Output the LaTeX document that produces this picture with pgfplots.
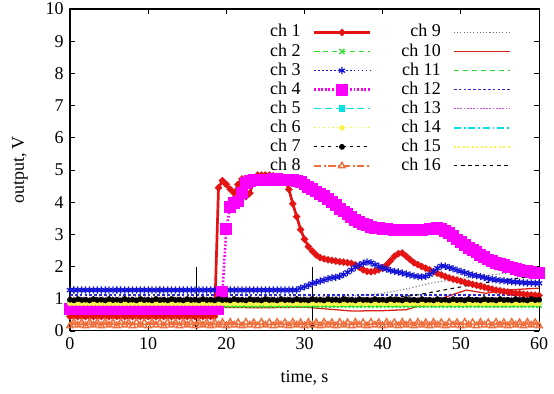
\documentclass[border=0pt]{standalone}
\usepackage{fontspec}
\setmainfont{Liberation Serif}
\usepackage{pgfplots}
\pgfplotsset{compat=1.18}
\usepackage{pgfplotstable}
\usetikzlibrary{arrows.meta}
\definecolor{c1}{RGB}{228,20,20}
\definecolor{c2}{RGB}{40,225,40}
\definecolor{c3}{RGB}{20,20,215}
\definecolor{c4}{RGB}{250,0,250}
\definecolor{c5}{RGB}{0,225,225}
\definecolor{c6}{RGB}{250,245,70}
\definecolor{c8}{RGB}{240,110,60}
\definecolor{c9}{RGB}{110,110,130}
\definecolor{c10}{RGB}{215,30,20}
\definecolor{c12}{RGB}{40,40,220}
\definecolor{c13}{RGB}{210,70,230}

\pgfplotstableread{
t a b c d e f g h
0.0 0.45 0.80 1.27 0.67 0.90 0.86 0.97 0.16
0.5 0.45 0.80 1.27 0.67 0.90 0.86 0.95 0.27
1.0 0.45 0.80 1.27 0.67 0.90 0.86 0.99 0.18
1.5 0.45 0.80 1.27 0.67 0.90 0.86 0.96 0.26
2.0 0.45 0.80 1.27 0.67 0.90 0.86 0.97 0.16
2.5 0.45 0.80 1.27 0.67 0.90 0.86 0.95 0.27
3.0 0.45 0.80 1.27 0.67 0.90 0.86 0.99 0.18
3.5 0.45 0.80 1.27 0.67 0.90 0.86 0.96 0.26
4.0 0.45 0.80 1.27 0.67 0.90 0.86 0.97 0.16
4.5 0.45 0.80 1.27 0.67 0.90 0.86 0.95 0.27
5.0 0.45 0.80 1.27 0.67 0.90 0.86 0.99 0.18
5.5 0.45 0.80 1.27 0.67 0.90 0.86 0.96 0.26
6.0 0.45 0.80 1.27 0.67 0.90 0.86 0.97 0.16
6.5 0.45 0.80 1.27 0.67 0.90 0.86 0.95 0.27
7.0 0.45 0.80 1.27 0.67 0.90 0.86 0.99 0.18
7.5 0.45 0.80 1.27 0.67 0.90 0.86 0.96 0.26
8.0 0.45 0.80 1.27 0.67 0.90 0.86 0.97 0.16
8.5 0.45 0.80 1.27 0.67 0.90 0.86 0.95 0.27
9.0 0.45 0.80 1.27 0.67 0.90 0.86 0.99 0.18
9.5 0.45 0.80 1.27 0.67 0.90 0.86 0.96 0.26
10.0 0.45 0.80 1.27 0.67 0.90 0.86 0.97 0.16
10.5 0.45 0.80 1.27 0.67 0.90 0.86 0.95 0.27
11.0 0.45 0.80 1.27 0.67 0.90 0.86 0.99 0.18
11.5 0.45 0.80 1.27 0.67 0.90 0.86 0.96 0.26
12.0 0.45 0.80 1.27 0.67 0.90 0.86 0.97 0.16
12.5 0.45 0.80 1.27 0.67 0.90 0.86 0.95 0.27
13.0 0.45 0.80 1.27 0.67 0.90 0.86 0.99 0.18
13.5 0.45 0.80 1.27 0.67 0.90 0.86 0.96 0.26
14.0 0.45 0.80 1.27 0.67 0.90 0.86 0.97 0.16
14.5 0.45 0.80 1.27 0.67 0.90 0.86 0.95 0.27
15.0 0.45 0.80 1.27 0.67 0.90 0.86 0.99 0.18
15.5 0.45 0.80 1.27 0.67 0.90 0.86 0.96 0.26
16.0 0.45 0.80 1.27 0.67 0.90 0.86 0.97 0.16
16.5 0.45 0.80 1.27 0.67 0.90 0.86 0.95 0.27
17.0 0.45 0.80 1.27 0.67 0.90 0.86 0.99 0.18
17.5 0.45 0.80 1.27 0.67 0.90 0.86 0.96 0.26
18.0 0.45 0.80 1.27 0.67 0.90 0.86 0.97 0.16
18.5 0.45 0.80 1.27 0.67 0.90 0.86 0.95 0.27
19.0 4.45 0.80 1.27 0.67 0.90 0.86 0.99 0.18
19.5 4.67 0.80 1.27 1.22 0.90 0.86 0.96 0.26
20.0 4.55 0.80 1.27 3.17 0.90 0.86 0.97 0.16
20.5 4.40 0.80 1.27 3.86 0.90 0.86 0.95 0.27
21.0 4.28 0.80 1.27 3.98 0.90 0.86 0.99 0.18
21.5 4.55 0.80 1.27 4.02 0.90 0.86 0.96 0.26
22.0 4.72 0.80 1.27 4.28 0.90 0.86 0.97 0.16
22.5 4.17 0.80 1.27 4.60 0.90 0.86 0.95 0.27
23.0 4.28 0.80 1.27 4.67 0.90 0.86 0.99 0.18
23.5 4.65 0.80 1.27 4.68 0.90 0.86 0.96 0.26
24.0 4.84 0.80 1.27 4.69 0.90 0.86 0.97 0.16
24.5 4.84 0.80 1.27 4.70 0.90 0.86 0.95 0.27
25.0 4.84 0.80 1.27 4.70 0.90 0.86 0.99 0.18
25.5 4.84 0.80 1.27 4.70 0.90 0.86 0.96 0.26
26.0 4.82 0.80 1.27 4.71 0.90 0.86 0.97 0.16
26.5 4.80 0.80 1.27 4.71 0.90 0.86 0.95 0.27
27.0 4.75 0.80 1.27 4.70 0.90 0.86 0.99 0.18
27.5 4.70 0.80 1.27 4.70 0.90 0.86 0.96 0.26
28.0 4.40 0.80 1.27 4.70 0.90 0.86 0.97 0.16
28.5 3.95 0.80 1.27 4.68 0.90 0.86 0.95 0.27
29.0 3.55 0.80 1.27 4.65 0.90 0.86 0.99 0.18
29.5 3.15 0.80 1.33 4.62 0.90 0.86 0.96 0.26
30.0 2.85 0.80 1.37 4.55 0.90 0.86 0.97 0.16
30.5 2.62 0.80 1.42 4.48 0.90 0.86 0.95 0.27
31.0 2.48 0.80 1.47 4.40 0.90 0.86 0.99 0.18
31.5 2.36 0.80 1.51 4.33 0.90 0.86 0.96 0.26
32.0 2.28 0.80 1.55 4.26 0.90 0.86 0.97 0.16
32.5 2.24 0.80 1.58 4.18 0.90 0.86 0.95 0.27
33.0 2.21 0.80 1.62 4.10 0.90 0.86 0.99 0.18
33.5 2.19 0.80 1.65 4.00 0.90 0.86 0.96 0.26
34.0 2.17 0.80 1.67 3.90 0.90 0.86 0.97 0.16
34.5 2.15 0.80 1.70 3.80 0.90 0.86 0.95 0.27
35.0 2.14 0.80 1.75 3.71 0.90 0.86 0.99 0.18
35.5 2.12 0.80 1.82 3.62 0.90 0.86 0.96 0.26
36.0 2.10 0.80 1.90 3.53 0.90 0.86 0.97 0.16
36.5 2.05 0.80 1.98 3.45 0.90 0.86 0.95 0.27
37.0 1.98 0.80 2.05 3.39 0.90 0.86 0.99 0.18
37.5 1.90 0.80 2.10 3.33 0.90 0.86 0.96 0.26
38.0 1.85 0.80 2.14 3.28 0.90 0.86 0.97 0.16
38.5 1.84 0.80 2.12 3.24 0.90 0.86 0.95 0.27
39.0 1.86 0.80 2.06 3.21 0.90 0.86 0.99 0.18
39.5 1.90 0.80 2.01 3.19 0.90 0.86 0.96 0.26
40.0 1.95 0.80 1.96 3.17 0.90 0.86 0.97 0.16
40.5 2.05 0.80 1.92 3.16 0.90 0.86 0.95 0.27
41.0 2.18 0.80 1.88 3.15 0.90 0.86 0.99 0.18
41.5 2.32 0.80 1.85 3.14 0.90 0.86 0.96 0.26
42.0 2.40 0.80 1.83 3.14 0.90 0.86 0.97 0.16
42.5 2.42 0.80 1.80 3.14 0.90 0.86 0.95 0.27
43.0 2.32 0.80 1.77 3.14 0.90 0.86 0.99 0.18
43.5 2.22 0.80 1.74 3.14 0.90 0.86 0.96 0.26
44.0 2.12 0.80 1.71 3.14 0.90 0.86 0.97 0.16
44.5 2.06 0.80 1.69 3.14 0.90 0.86 0.95 0.27
45.0 2.00 0.80 1.68 3.14 0.90 0.86 0.99 0.18
45.5 1.95 0.80 1.70 3.15 0.90 0.86 0.96 0.26
46.0 1.90 0.80 1.75 3.16 0.90 0.86 0.97 0.16
46.5 1.84 0.80 1.85 3.18 0.90 0.86 0.95 0.27
47.0 1.79 0.80 1.95 3.19 0.90 0.86 0.99 0.18
47.5 1.74 0.80 2.02 3.17 0.90 0.86 0.96 0.26
48.0 1.69 0.80 2.01 3.10 0.90 0.86 0.97 0.16
48.5 1.65 0.80 1.97 3.04 0.90 0.86 0.95 0.27
49.0 1.61 0.80 1.93 2.94 0.90 0.86 0.99 0.18
49.5 1.58 0.80 1.89 2.84 0.90 0.86 0.96 0.26
50.0 1.55 0.80 1.85 2.76 0.90 0.86 0.97 0.16
50.5 1.51 0.80 1.81 2.67 0.90 0.86 0.95 0.27
51.0 1.48 0.80 1.77 2.59 0.90 0.86 0.99 0.18
51.5 1.45 0.80 1.74 2.51 0.90 0.86 0.96 0.26
52.0 1.42 0.80 1.71 2.44 0.90 0.86 0.97 0.16
52.5 1.39 0.80 1.69 2.37 0.90 0.86 0.95 0.27
53.0 1.36 0.80 1.66 2.30 0.90 0.86 0.99 0.18
53.5 1.33 0.80 1.63 2.22 0.90 0.86 0.96 0.26
54.0 1.30 0.80 1.61 2.17 0.90 0.86 0.97 0.16
54.5 1.27 0.80 1.59 2.12 0.90 0.86 0.95 0.27
55.0 1.25 0.80 1.57 2.08 0.90 0.86 0.99 0.18
55.5 1.23 0.80 1.56 2.04 0.90 0.86 0.96 0.26
56.0 1.21 0.80 1.54 2.00 0.90 0.86 0.97 0.16
56.5 1.19 0.80 1.53 1.97 0.90 0.86 0.95 0.27
57.0 1.17 0.80 1.52 1.93 0.90 0.86 0.99 0.18
57.5 1.16 0.80 1.51 1.90 0.90 0.86 0.96 0.26
58.0 1.14 0.80 1.50 1.87 0.90 0.86 0.97 0.16
58.5 1.13 0.80 1.49 1.85 0.90 0.86 0.95 0.27
59.0 1.12 0.80 1.49 1.83 0.90 0.86 0.99 0.18
59.5 1.11 0.80 1.48 1.81 0.90 0.86 0.96 0.26
60.0 1.10 0.80 1.48 1.80 0.90 0.86 0.97 0.16
}\data

\pgfplotsset{
  s1/.style={color=c1, solid, line width=1.5pt, mark=*, mark size=1.1pt},
  s2/.style={color=c2, dash pattern=on 3pt off 2pt, line width=0.7pt, mark=x, mark size=2pt, mark options={solid}},
  s3/.style={color=c3, dash pattern=on 1pt off 1.2pt, line width=0.7pt, mark=asterisk, mark size=2pt, mark options={solid}},
  s4/.style={color=c4, dash pattern=on 1pt off 1pt, line width=1.4pt, mark=square*, mark size=2.6pt, mark options={solid}},
  s5/.style={color=c5, dash pattern=on 4pt off 2pt, line width=0.8pt, mark=square*, mark size=1.5pt, mark options={solid}},
  s6/.style={color=c6, dash pattern=on 1pt off 1.5pt, line width=0.7pt, mark=*, mark size=1.2pt, mark options={solid}},
  s7/.style={color=black, dash pattern=on 1.5pt off 2.5pt, line width=0.6pt, mark=*, mark size=1.3pt, mark options={solid}},
  s8/.style={color=c8, dash pattern=on 4pt off 1.5pt on 1pt off 1.5pt, line width=0.8pt, mark=triangle, mark size=2pt, mark options={solid}},
  s9/.style={color=c9, dash pattern=on 0.6pt off 1.2pt, line width=0.6pt, no marks},
  s10/.style={color=c10, solid, line width=0.7pt, no marks},
  s11/.style={color=c2, dash pattern=on 3pt off 2pt, line width=0.8pt, no marks},
  s12/.style={color=c12, dash pattern=on 1.5pt off 1.2pt, line width=0.8pt, no marks},
  s13/.style={color=c13, dash pattern=on 1pt off 0.8pt, line width=0.8pt, no marks},
  s14/.style={color=c5, dash pattern=on 4pt off 1.5pt on 1pt off 1.5pt, line width=0.8pt, no marks},
  s15/.style={color=c6, dash pattern=on 1pt off 1.5pt, line width=0.8pt, no marks},
  s16/.style={color=black, dash pattern=on 2pt off 2pt, line width=0.6pt, no marks},
}

\begin{document}
\begin{tikzpicture}
\begin{axis}[
  scale only axis, width=260.8pt, height=179pt,
  xmin=0, xmax=60, ymin=0, ymax=10,
  xtick={0,10,...,60}, ytick={0,1,...,10},
  tick align=inside, major tick length=3pt,
  axis line style={line width=0.6pt, black},
  every tick/.style={black, line width=0.5pt},
  /pgf/number format/assume math mode=true,
  tick label style={font=\fontsize{10}{12}\selectfont},
  xlabel={time, s}, ylabel={output, V},
  every axis x label/.style={at={(axis description cs:0.5,-0.1453)}, anchor=center, font=\fontsize{10}{12}\selectfont},
  every axis y label/.style={at={(axis description cs:-0.1066,0.5)}, anchor=center, rotate=90, font=\fontsize{10}{12}\selectfont},
  legend columns=2,
  legend plot pos=right,
  legend cell align=right,
  legend image code/.code={\draw[mark repeat=2,mark phase=2,#1] plot coordinates {(0pt,0pt) (15.5pt,0pt) (31pt,0pt)};},
  legend style={draw=none, fill=none, at={(rel axis cs:0.951,0.969)}, anchor=north east,
    font=\fontsize{10}{12}\selectfont,
    nodes={inner sep=0.8pt, text height=7pt, text depth=2pt},
    row sep=0.0pt,
    /tikz/every odd column/.append style={column sep=6pt},
    /tikz/every even column/.append style={column sep=16pt}},
]
\addplot[s1, forget plot] table[x=t, y=a] {\data};
\addplot[s2, forget plot] table[x=t, y=b] {\data};
\addplot[s3, forget plot] table[x=t, y=c] {\data};
\addplot[s4, forget plot] table[x=t, y=d] {\data};
\addplot[s5, forget plot] table[x=t, y=e] {\data};
\addplot[s6, forget plot] table[x=t, y=f] {\data};
\addplot[s7, forget plot] table[x=t, y=g] {\data};
\addplot[s8, forget plot] table[x=t, y=h] {\data};
\addplot[s9, forget plot] coordinates {(0,1.05) (10,1.06) (20,1.05) (30,1.06) (36,1.08) (40,1.17) (43,1.30) (46,1.48) (49,1.60) (52,1.69) (56,1.80) (60,1.95)};
\addplot[s10, forget plot] coordinates {(0,0.76) (10,0.75) (20,0.73) (25,0.72) (30,0.74) (33,0.68) (36,0.62) (40,0.63) (43,0.66) (46,0.88) (48,1.05) (50.7,1.27) (53.2,1.17) (55.8,1.27) (60,1.33)};
\addplot[s11, forget plot] coordinates {(0,0.76) (20,0.76) (40,0.76) (60,0.76)};
\addplot[s12, forget plot] coordinates {(0,1.12) (20,1.12) (40,1.12) (60,1.12)};
\addplot[s13, forget plot] coordinates {(0,1.02) (20,1.02) (40,1.02) (60,1.03)};
\addplot[s14, forget plot] coordinates {(0,0.93) (20,0.93) (40,0.93) (60,0.93)};
\addplot[s15, forget plot] coordinates {(0,0.84) (20,0.84) (40,0.84) (60,0.84)};
\addplot[s16, forget plot] coordinates {(0,1.00) (20,1.00) (40,1.02) (44,1.10) (48,1.28) (52,1.46) (56,1.60) (60,1.72)};
\draw[-{Latex[length=4pt,width=3pt]}, line width=0.5pt] (axis cs:16.2,2) -- (axis cs:16.2,0);
\draw[-{Latex[length=4pt,width=3pt]}, line width=0.5pt] (axis cs:31,2) -- (axis cs:31,0);
\addlegendimage{s1}\addlegendentry{ch 1}
\addlegendimage{s9}\addlegendentry{ch 9}
\addlegendimage{s2}\addlegendentry{ch 2}
\addlegendimage{s10}\addlegendentry{ch 10}
\addlegendimage{s3}\addlegendentry{ch 3}
\addlegendimage{s11}\addlegendentry{ch 11}
\addlegendimage{s4}\addlegendentry{ch 4}
\addlegendimage{s12}\addlegendentry{ch 12}
\addlegendimage{s5}\addlegendentry{ch 5}
\addlegendimage{s13}\addlegendentry{ch 13}
\addlegendimage{s6}\addlegendentry{ch 6}
\addlegendimage{s14}\addlegendentry{ch 14}
\addlegendimage{s7}\addlegendentry{ch 7}
\addlegendimage{s15}\addlegendentry{ch 15}
\addlegendimage{s8}\addlegendentry{ch 8}
\addlegendimage{s16}\addlegendentry{ch 16}
\end{axis}
\pgfresetboundingbox
\path ([shift={(-38.9pt,-35pt)}]current axis.south west) rectangle ([shift={(8.3pt,5pt)}]current axis.north east);
\end{tikzpicture}
\end{document}
